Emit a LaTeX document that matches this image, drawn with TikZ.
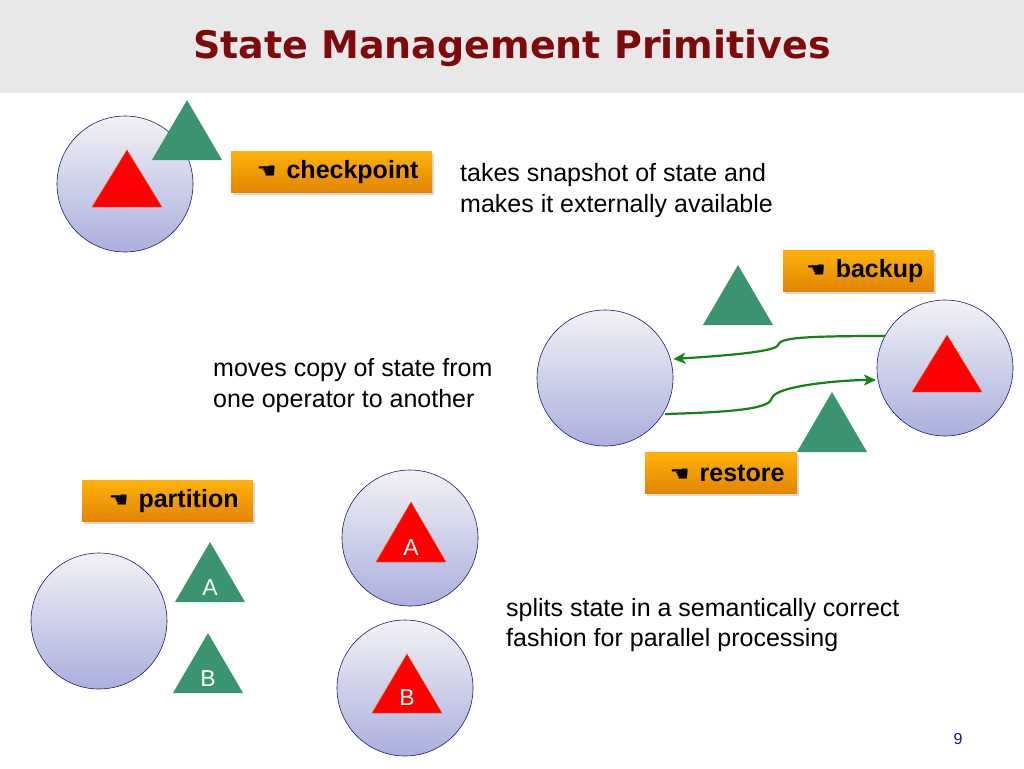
\documentclass[tikz,border=0pt]{standalone}
\usepackage{fontspec}
\setmainfont{Liberation Sans}
\newfontfamily\titlefont{DejaVu Sans}
\newfontfamily\symfont{DejaVu Sans}
\usetikzlibrary{shadows,arrows.meta}
\definecolor{titlered}{HTML}{7F0A0A}
\definecolor{tgreen}{HTML}{3A9470}
\definecolor{navy}{HTML}{1A1A6E}
\tikzset{
  opcircle/.style={circle,draw=navy,semithick,minimum size=136pt,inner sep=0pt,top color=white!90!blue!60!gray!20,bottom color={rgb,255:red,170;green,175;blue,222}},
  labelbox/.style={inner sep=0pt,minimum height=41pt,top color={rgb,255:red,255;green,178;blue,10},bottom color={rgb,255:red,226;green,132;blue,0},drop shadow={shadow xshift=2pt,shadow yshift=-2pt,opacity=.3},font=\fontsize{25}{28}\selectfont\bfseries,anchor=west},
  body/.style={anchor=west,font=\fontsize{25}{28}\selectfont,inner sep=0pt},
  letter/.style={text=white,font=\fontsize{23}{25}\selectfont},
  arr/.style={draw={rgb,255:red,20;green,130;blue,20},line width=2.2pt,-{Stealth[length=12pt,width=11pt,inset=3pt]}}
}
\newcommand{\tri}[5]{\fill[#5] (#1,#2) -- (#3,#4) -- ({2*#1-#3},#4) -- cycle;}
\newcommand{\hand}{{\symfont\fontsize{22}{22}\selectfont ☚}}
\begin{document}
\begin{tikzpicture}[x=1pt,y=-1pt]
\useasboundingbox (0,0) rectangle (1024,768);
\fill[gray!18] (0,0) rectangle (1024,93);
\node[font=\titlefont\fontsize{38}{44}\selectfont\bfseries,text=titlered] (title) at (512,48) {State Management Primitives};
% checkpoint
\node[opcircle] (c1) at (125,184) {};
\fill[red,draw=orange!70!red] (127,150) -- (162,207) -- (92,207) -- cycle;
\tri{187}{100}{222}{160}{tgreen}
\node[labelbox,minimum width=201pt] (cp) at (231,172) {\hspace{12pt}\hand\hspace{10pt}checkpoint};
\node[body] (t1) at (460,175) {takes snapshot of state and};
\node[body] (t2) at (460,206) {makes it externally available};
% backup / restore
\node[labelbox,minimum width=151pt] (bk) at (783,271) {\hspace{12pt}\hand\hspace{10pt}backup};
\tri{738}{265}{773}{325}{tgreen}
\node[opcircle] (c2) at (605,378) {};
\node[opcircle] (c3) at (945,368) {};
\fill[red,draw=orange!70!red] (947,335) -- (982,392) -- (912,392) -- cycle;
\coordinate (a1s) at (885,336);
\coordinate (a2e) at (876,380);
\draw[arr] (a1s) .. controls (800,336) and (780,338) .. (778,345) .. controls (776,352) and (720,356) .. (c2.east |- 0,359);
\coordinate (a2s) at (665,414);
\draw[arr] (a2s) .. controls (740,412) and (770,408) .. (772,398) .. controls (775,386) and (840,380) .. (a2e);
\tri{832}{392}{867}{452}{tgreen}
\node[labelbox,minimum width=152pt] (rs) at (645,473) {\hspace{12pt}\hand\hspace{10pt}restore};
\node[body] (t3) at (213,370) {moves copy of state from};
\node[body] (t4) at (213,401) {one operator to another};
% partition
\node[labelbox,minimum width=171pt] (pt) at (82,501) {\hspace{12pt}\hand\hspace{10pt}partition};
\node[opcircle] (c4) at (99,621) {};
\tri{210}{542}{245}{602}{tgreen}
\node[letter] (la) at (210,588) {A};
\tri{208}{633}{243}{693}{tgreen}
\node[letter] (lb) at (208,679) {B};
\node[opcircle] (c5) at (410,538) {};
\fill[red,draw=orange!70!red] (411,502) -- (446,562) -- (376,562) -- cycle;
\node[letter] (la2) at (411,548) {A};
\node[opcircle] (c6) at (405,688) {};
\fill[red,draw=orange!70!red] (407,654) -- (442,713) -- (372,713) -- cycle;
\node[letter] (lb2) at (407,698) {B};
\node[body] (t5) at (506,610) {splits state in a semantically correct};
\node[body] (t6) at (506,640) {fashion for parallel processing};
\node[font=\fontsize{16}{18}\selectfont,text=navy] (pg) at (958,739) {9};
\end{tikzpicture}
\end{document}
